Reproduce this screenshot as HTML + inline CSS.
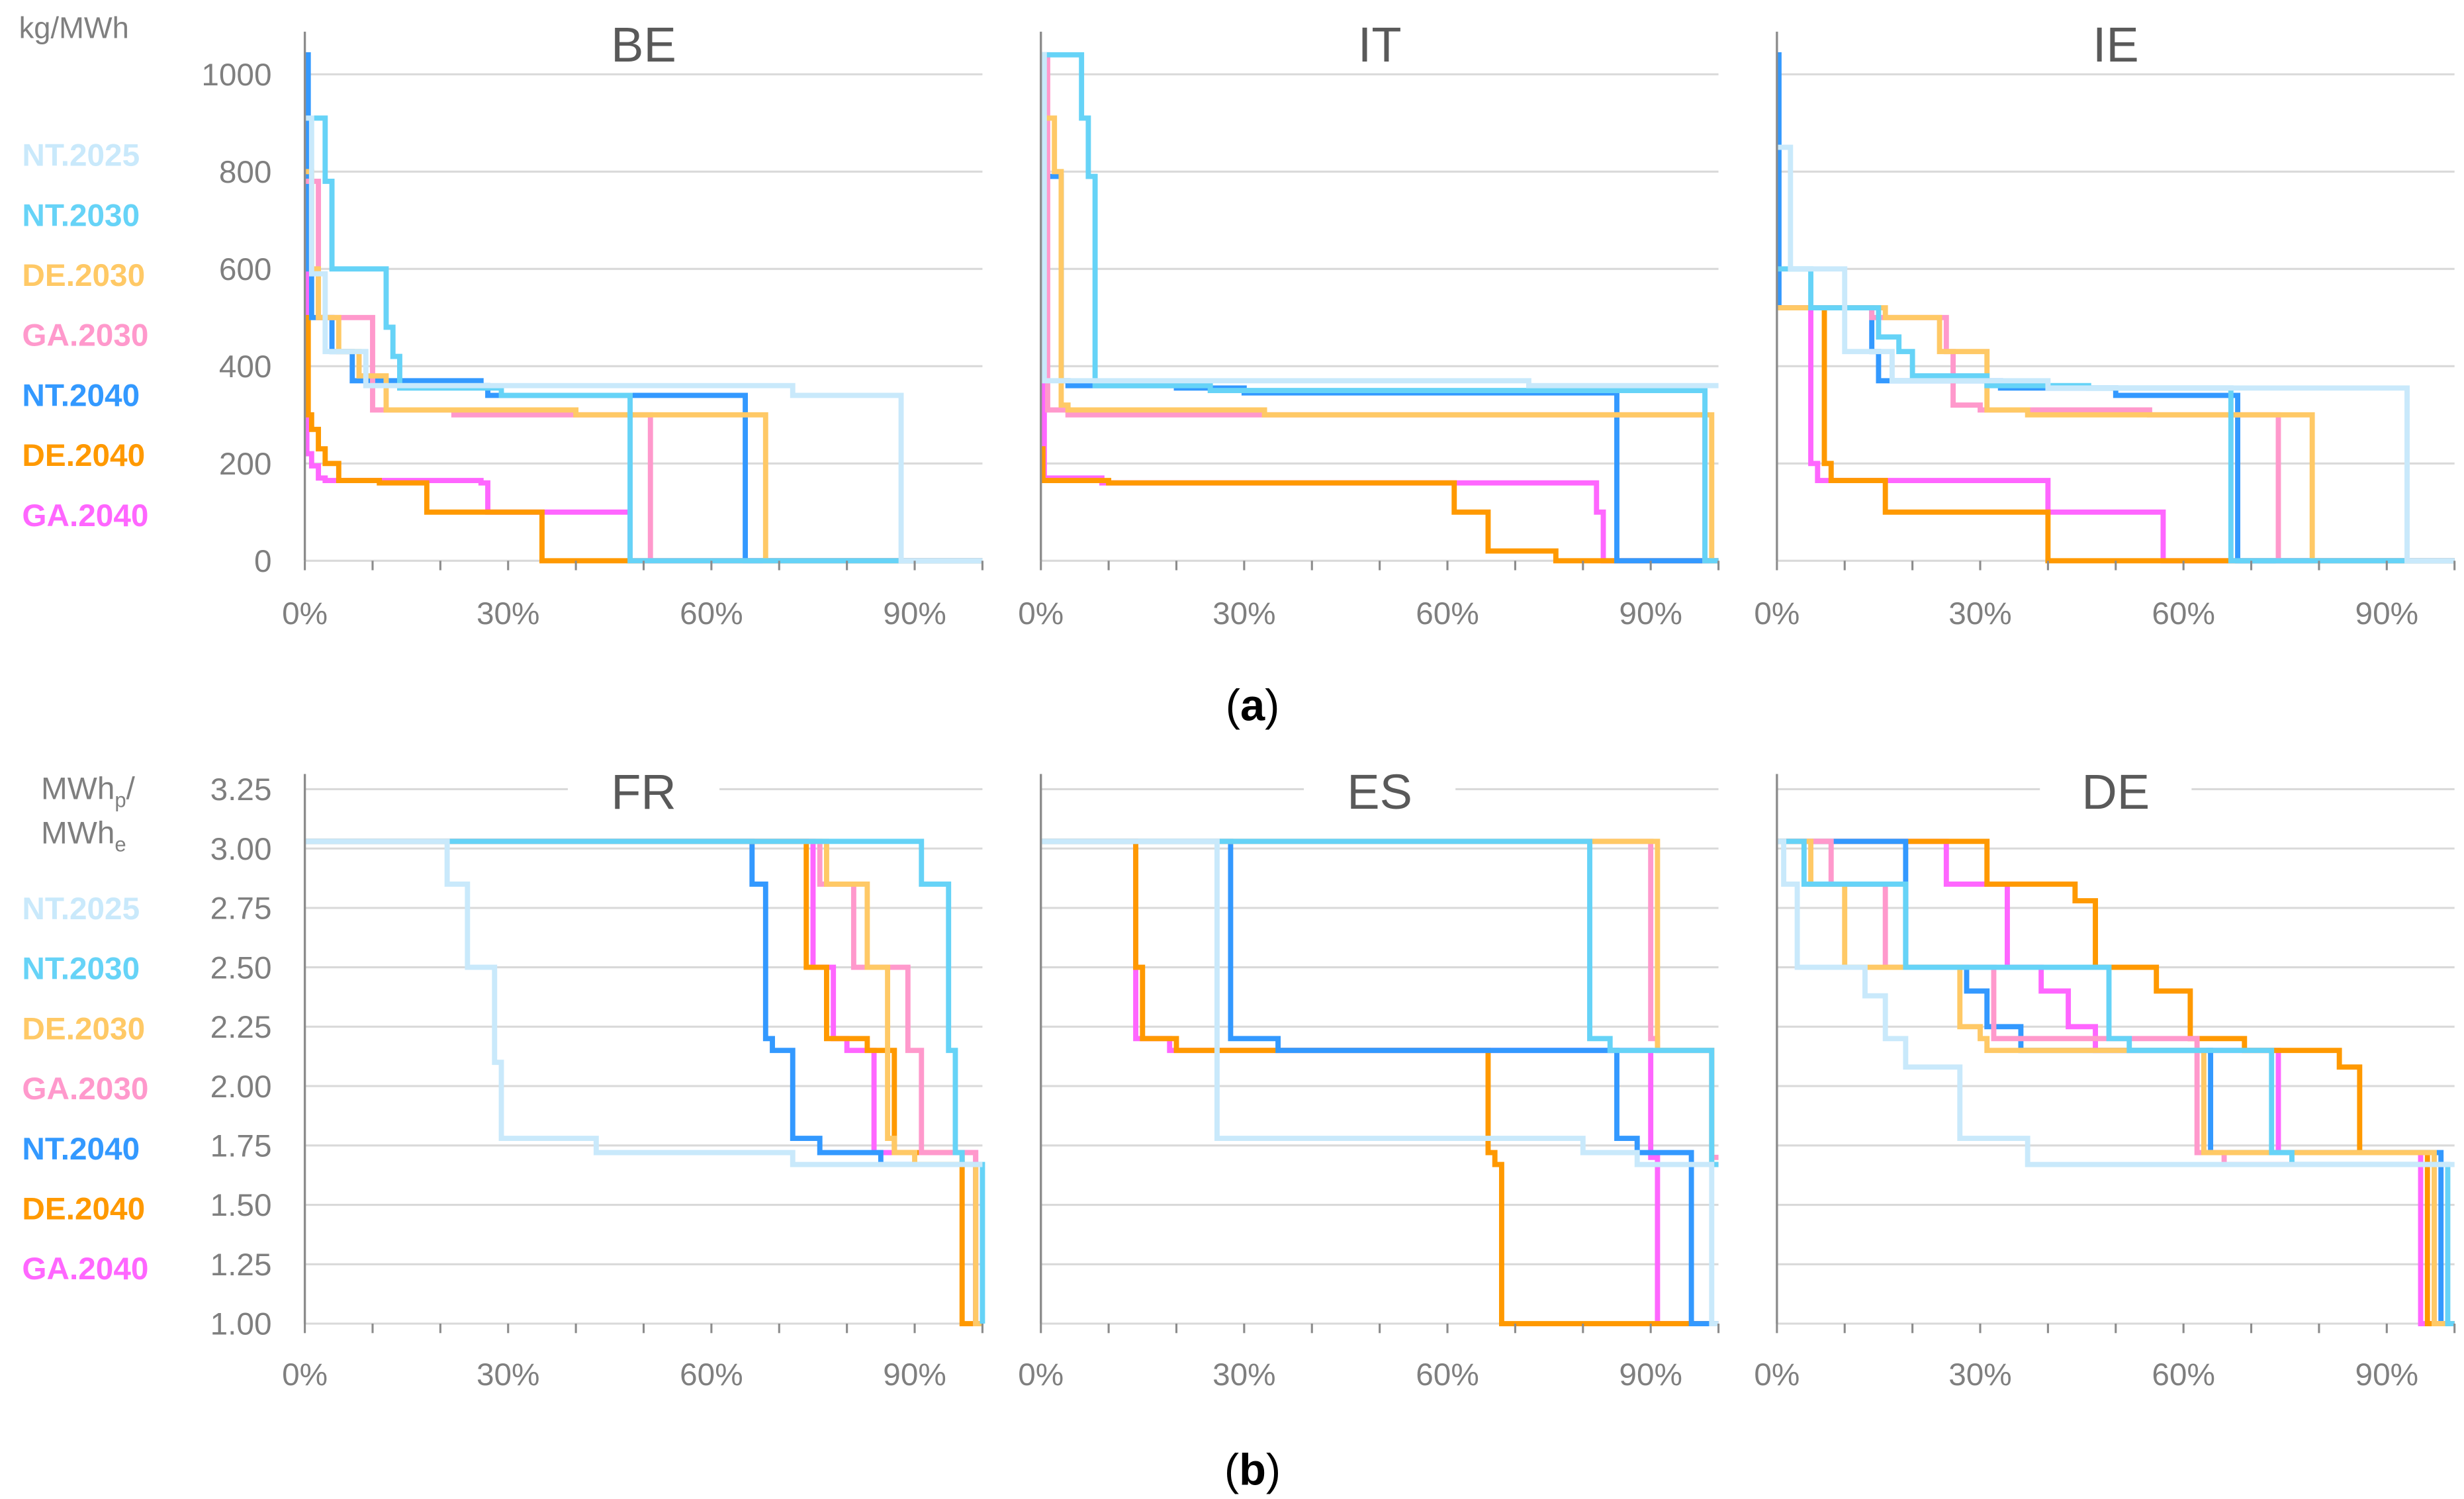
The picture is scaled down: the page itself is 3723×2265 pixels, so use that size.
<!DOCTYPE html>
<html><head><meta charset="utf-8"><style>
html,body{margin:0;padding:0;background:#fff}
svg{display:block}
text{font-family:"Liberation Sans",sans-serif}
</style></head><body>
<svg id="c" width="3723" height="2265" viewBox="0 0 1560 949" xmlns="http://www.w3.org/2000/svg"></svg>
<script>
const seriesNames=["NT.2025","NT.2030","DE.2030","GA.2030","NT.2040","DE.2040","GA.2040"];
const seriesColors=["#c9e9fb","#66d3f7","#ffc966","#ff99cc","#3399ff","#ff9900","#ff66ff"];
const xTicks=["0%","30%","60%","90%"];
const topTicks=[0,200,400,600,800,1000];
const botTicks=[1.00,1.25,1.50,1.75,2.00,2.25,2.50,2.75,3.00,3.25];
const panelTitles=["BE","IT","IE","FR","ES","DE"];
const BE=[
[[0,1,3,9,72,88],[910,590,430,360,340,0]],
[[0,3,4,12,13,14,29,48],[910,780,600,480,420,355,340,0]],
[[0,1,2,5,8,12,40,68],[800,600,500,430,380,310,300,0]],
[[0,2,10,22,51],[780,500,310,300,0]],
[[0,0.5,1,4,7,26,27,65],[1040,600,500,430,370,360,340,0]],
[[0,0.5,1,2,3,5,11,18,35],[500,300,270,230,200,165,160,100,0]],
[[0,0.3,1,2,3,26,27,48],[780,220,195,170,165,160,100,0]]];
const IT=[
[[0,0.5,72],[1040,370,360]],
[[0,6,7,8,25,98],[1040,910,790,360,350,0]],
[[0,2,3,4,33,99],[910,800,320,310,300,0]],
[[0,1,4,98],[1040,310,300,0]],
[[0,3,4,20,30,85],[790,370,360,355,345,0]],
[[0,0.3,10,61,66,76],[230,165,160,100,20,0]],
[[0,0.5,9,82,83],[420,170,160,100,0]]];
const IE=[
[[0,2,10,17,40,93],[850,600,430,370,355,0]],
[[0,5,15,18,20,31,46,67],[600,520,460,430,380,360,355,0]],
[[0,16,24,31,37,79],[520,500,430,310,300,0]],
[[0,14,25,26,30,55,74],[520,500,430,320,310,300,0]],
[[0,0.3,14,15,33,50,68],[1040,520,430,370,355,340,0]],
[[0,7,8,16,40],[520,200,165,100,0]],
[[0,5,6,40,57],[520,200,165,100,0]]];
const FR=[
[[0,21,24,28,29,43,72],[3.03,2.85,2.5,2.1,1.78,1.72,1.67]],
[[0,91,95,96,97,100],[3.03,2.85,2.15,1.72,1.67,1.0]],
[[0,77,83,86,87,90,99],[3.03,2.85,2.5,1.78,1.72,1.67,1.0]],
[[0,76,81,89,91,99],[3.03,2.85,2.5,2.15,1.72,1.0]],
[[0,66,68,69,72,76,85,99],[3.03,2.85,2.2,2.15,1.78,1.72,1.67,1.0]],
[[0,74,77,83,87,97],[3.03,2.5,2.2,2.15,1.72,1.0]],
[[0,75,78,80,84,99],[3.03,2.5,2.2,2.15,1.72,1.0]]];
const ES=[
[[0,26,80,88,99],[3.03,1.78,1.72,1.67,1.0]],
[[0,81,84,99],[3.03,2.2,2.15,1.67]],
[[0,91,99],[3.03,2.15,1.67]],
[[0,90,91,99],[3.03,2.2,2.15,1.7]],
[[0,28,35,85,88,96],[3.03,2.2,2.15,1.78,1.72,1.0]],
[[0,14,15,20,66,67,68],[3.03,2.5,2.2,2.15,1.72,1.67,1.0]],
[[0,14,19,90,91],[3.03,2.2,2.15,1.7,1.0]]];
const DE=[
[[0,1,3,13,16,19,27,37],[3.03,2.85,2.5,2.38,2.2,2.08,1.78,1.67]],
[[0,4,19,49,52,73,76,99],[3.03,2.85,2.5,2.2,2.15,1.72,1.67,1.0]],
[[0,5,10,27,30,31,63,97],[3.03,2.85,2.5,2.25,2.2,2.15,1.72,1.0]],
[[0,8,16,32,62,66,97],[3.03,2.85,2.5,2.2,1.72,1.67,1.0]],
[[0,19,28,31,36,64,98],[3.03,2.5,2.4,2.25,2.15,1.72,1.0]],
[[0,31,44,47,56,61,69,83,86,96],[3.03,2.85,2.78,2.5,2.4,2.2,2.15,2.08,1.72,1.0]],
[[0,25,34,39,43,47,74,95],[3.03,2.85,2.5,2.4,2.25,2.15,1.72,1.0]]];
const panelData=[BE,IT,IE,FR,ES,DE];

const NS="http://www.w3.org/2000/svg";
const svg=document.getElementById('c');
function mk(tag,attrs,parent,txt){const e=document.createElementNS(NS,tag);for(const k in attrs)e.setAttribute(k,attrs[k]);if(txt!==undefined)e.textContent=txt;(parent||svg).appendChild(e);return e;}
const lefts=[193,659,1125];
const W=429;
function makeScale(row){
 if(row===0) return {y:v=>355-v*0.308,yTop:20,base:355,ticks:topTicks,fmt:v=>String(v),xl:388,ty:27};
 return {y:v=>838-(v-1)*150.4,yTop:490,base:838,ticks:botTicks,fmt:v=>v.toFixed(2),xl:870,ty:500};
}
for(let p=0;p<6;p++){
 const row=p<3?0:1, col=p%3, L=lefts[col], s=makeScale(row);
 const x=v=>L+v/100*W;
 const g=mk('g',{});
 
 
 s.ticks.forEach(t=>{
  const gl=mk('line',{x1:L,x2:L+W,y1:s.y(t),y2:s.y(t),stroke:'#d9d9d9','stroke-width':1.3},g);
  
  
  if(col===0){
   const tl=mk('text',{x:172,y:s.y(t)+7,'text-anchor':'end','font-size':20,fill:'#7f7f7f'},g,s.fmt(t));
   
   
  }
 });
 xTicks.forEach((t,i)=>{
  const xt=mk('text',{x:x(i*30),y:s.xl+7,'text-anchor':'middle','font-size':20,fill:'#7f7f7f'},g,t);
  
  
 });
 const title=mk('rect',{x:L+W/2-48,y:s.ty-22,width:96,height:40,fill:'#fff'},g);
 
 
 const tt=mk('text',{x:L+W/2,y:s.ty+12,'text-anchor':'middle','font-size':31,fill:'#595959'},g,panelTitles[p]);
 
 
 for(let i=panelData[p].length-1;i>=0;i--){
  const sr=panelData[p][i];
  const xs=sr[0],vs=sr[1];
  let d='M'+x(xs[0])+','+s.y(vs[0]);
  for(let j=1;j<xs.length;j++){d+=' L'+x(xs[j])+','+s.y(vs[j-1])+' L'+x(xs[j])+','+s.y(vs[j]);}
  d+=' L'+x(100)+','+s.y(vs[vs.length-1]);
  const pth=mk('path',{d:d,fill:'none',stroke:seriesColors[i],'stroke-width':3.3,'stroke-linejoin':'miter'},g);
  
  
 }
 const ax=mk('line',{x1:L,x2:L,y1:s.yTop,y2:s.base,stroke:'#8c8c8c','stroke-width':1.4},g);
 
 
 for(let k=0;k<=10;k++){
  const tk=mk('line',{x1:x(k*10),x2:x(k*10),y1:s.base,y2:s.base+6,stroke:'#8c8c8c','stroke-width':1.3},g);
  
  
 }
}
[98,575].forEach((y0,r)=>{
 seriesNames.forEach((n,i)=>{
  const t=mk('text',{x:14,y:y0+i*38+7,'font-size':20,'font-weight':'bold',fill:seriesColors[i]},svg,n);
  
  
 });
});
const yt1=mk('text',{x:12,y:24,'font-size':19,fill:'#7f7f7f'},svg,'kg/MWh');


const yt2=mk('text',{x:26,y:506,'font-size':20,fill:'#7f7f7f'},svg);


yt2.innerHTML='MWh<tspan font-size="13" dy="5">p</tspan><tspan dy="-5">/</tspan>';
const yt3=mk('text',{x:26,y:534,'font-size':20,fill:'#7f7f7f'},svg);


yt3.innerHTML='MWh<tspan font-size="13" dy="5">e</tspan>';
[['(a)',456,'a'],['(b)',940,'b']].forEach(c=>{
 const t=mk('text',{x:793,y:c[1],'text-anchor':'middle','font-size':28,fill:'#000','font-family':'Liberation Serif, serif'},svg);
 
 
 t.innerHTML='(<tspan font-weight="bold">'+c[2]+'</tspan>)';
});
</script>
</body></html>
